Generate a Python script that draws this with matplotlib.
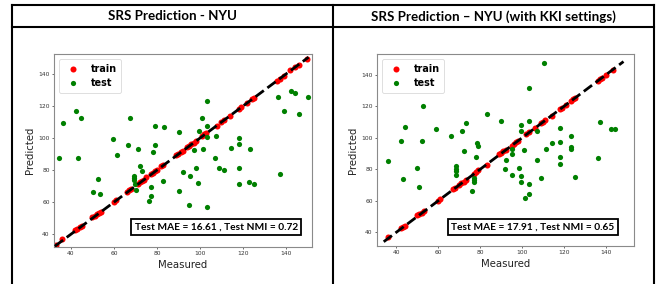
import matplotlib
matplotlib.use("Agg")
import matplotlib.pyplot as plt
from matplotlib.lines import Line2D

# ---------------- data ----------------
titles = ["SRS Prediction - NYU", "SRS Prediction \u2013 NYU (with KKI settings)"]
box_texts = ["Test MAE = 16.61 , Test NMI = 0.72", "Test MAE = 17.91 , Test NMI = 0.65"]

left_train_x = [33, 36, 42, 43, 44, 45, 50, 51, 52, 53, 54, 60, 61, 66, 67, 68, 71, 72, 73, 74, 75,
                77, 78, 79, 80, 82, 83, 89, 90, 91, 92, 94, 95, 96, 97, 98, 101, 102, 103, 108, 110,
                111, 114, 118, 119, 122, 124, 125, 136, 137, 139, 142, 144, 146, 150]
left_train_y = [33.5, 36.8, 42.9, 43.4, 44.2, 44.8, 50.6, 51.2, 52.3, 53.1, 54.0, 59.8, 61.2, 66.3,
                67.6, 68.1, 71.2, 72.4, 72.9, 74.1, 75.6, 77.3, 78.2, 79.4, 80.1, 82.6, 83.2, 89.4,
                89.9, 91.3, 92.1, 94.6, 95.3, 96.4, 97.1, 98.3, 101.2, 102.4, 103.3, 107.6, 109.8,
                111.4, 113.9, 118.3, 119.2, 122.1, 124.3, 124.8, 135.4, 137.2, 138.6, 142.4, 144.1,
                145.8, 149.2]
left_test_x = [36.4, 42.3, 44.5, 67.4, 59.4, 79.2, 83.3, 90.4, 66.5, 71.3, 79.2, 99.4, 101.1, 103.1,
               103.1, 103.1, 107.3, 118.0, 118.0, 114.3, 123.3, 136.1, 139.1, 142.2, 144.1, 146.1,
               150.1, 34.6, 43.4, 61.3, 78.3, 72.1, 73.2, 69.4, 69.4, 69.4, 69.6, 70.2, 50.4, 53.5,
               52.4, 77.3, 77.2, 76.3, 82.6, 91.9, 98.3, 95.2, 99.2, 90.4, 95.0, 103.1, 97.3, 101.2,
               107.2, 109.0, 111.3, 118.0, 118.0, 123.0, 125.1, 137.0]
left_test_y = [109.6, 116.7, 112.3, 112.3, 99.4, 107.5, 106.9, 104.0, 95.6, 93.1, 95.4, 104.6, 112.7,
               123.3, 107.5, 100.8, 101.4, 100.2, 96.5, 93.6, 93.1, 125.8, 117.1, 129.6, 128.0, 114.8,
               125.8, 87.5, 87.5, 89.2, 91.3, 82.5, 79.2, 76.3, 74.8, 73.6, 71.4, 67.9, 66.3, 65.0,
               74.3, 69.2, 63.9, 60.5, 73.2, 78.9, 81.1, 76.3, 72.0, 67.0, 58.0, 56.9, 92.4, 92.9,
               87.6, 81.1, 80.2, 81.1, 71.3, 72.8, 71.1, 77.8]
left_identity = [32.5, 150.5]

right_train_x = [36, 42, 43, 44, 50, 51, 52, 53, 60, 61, 67, 68, 70, 71, 72, 73, 77, 78, 79, 83, 89,
                 90, 91, 92, 95, 96, 97, 98, 102, 103, 106, 109, 110, 111, 114, 118, 119, 121, 123,
                 124, 125, 136, 137, 138, 140, 143]
right_train_y = [37.0, 42.5, 43.6, 44.2, 50.8, 51.5, 52.4, 53.3, 59.6, 61.1, 67.2, 68.3, 69.9, 71.2,
                 72.1, 73.4, 77.2, 78.4, 79.3, 82.7, 89.6, 90.5, 91.2, 92.4, 94.8, 96.2, 97.4, 98.1,
                 102.6, 103.3, 106.1, 109.3, 110.2, 111.4, 113.6, 117.9, 118.8, 120.9, 123.1, 124.2,
                 125.2, 135.8, 137.2, 138.1, 139.7, 142.8]
right_test_x = [52.9, 43.9, 42.0, 52.0, 59.0, 66.1, 71.2, 73.0, 78.5, 79.0, 83.2, 90.0, 99.3, 99.3,
                103.2, 103.2, 110.1, 107.0, 118.0, 118.0, 114.0, 123.0, 111.1, 101.0, 123.0, 123.0,
                136.9, 142.1, 144.2, 36.0, 43.1, 50.0, 50.8, 72.0, 68.6, 68.6, 68.6, 68.6, 75.9,
                78.1, 76.9, 76.9, 76.9, 92.0, 91.8, 95.3, 95.3, 95.3, 98.2, 99.2, 99.2, 101.1, 103.1,
                103.1, 106.9, 109.0, 118.0, 118.0, 125.3, 136.2]
right_test_y = [120.2, 107.0, 97.7, 97.6, 105.5, 101.1, 104.5, 109.1, 96.6, 95.0, 114.8, 110.8, 108.1,
                104.4, 110.7, 131.7, 147.6, 104.5, 106.0, 97.5, 96.5, 101.1, 92.9, 92.0, 94.0, 92.8,
                109.8, 105.5, 105.5, 85.4, 73.6, 80.8, 68.6, 91.5, 82.1, 80.2, 78.6, 76.6, 66.0,
                87.7, 74.7, 73.0, 71.6, 85.8, 80.0, 89.4, 76.5, 93.1, 80.8, 75.7, 72.1, 61.5, 70.5,
                64.1, 85.7, 74.4, 87.9, 83.5, 75.2, 87.1]
right_identity = [34.0, 148.2]

xticks = [40, 60, 80, 100, 120, 140]
yticks = [40, 60, 80, 100, 120, 140]

W, H = 666, 284
fig = plt.figure(figsize=(W / 100, H / 100), dpi=100)

def fx(px):
    return px / W

def fy(py):
    return 1 - py / H

panels = [
    dict(rect=[fx(54), fy(247), (312 - 54) / W, (247 - 54) / H], xlim=(32.1, 152.1), ylim=(32.0, 152.5),
         tx=left_train_x, ty=left_train_y, gx=left_test_x, gy=left_test_y, ident=left_identity,
         box=(129.3, 303.3)),
    dict(rect=[fx(377), fy(246), (634 - 377) / W, (246 - 54) / H], xlim=(30.8, 153.2), ylim=(31.3, 153.0),
         tx=right_train_x, ty=right_train_y, gx=right_test_x, gy=right_test_y, ident=right_identity,
         box=(446.3, 619.7)),
]

spine_c = "#8a8a8a"
for i, p in enumerate(panels):
    ax = fig.add_axes(p["rect"])
    ax.scatter(p["tx"], p["ty"], s=19, c="#ff0000", label="train", zorder=2, linewidths=0)
    ax.scatter(p["gx"], p["gy"], s=14, c="#008000", label="test", zorder=2, linewidths=0)
    ax.plot(p["ident"], p["ident"], ls="--", color="black", lw=2.0, zorder=3)
    ax.set_xlim(*p["xlim"])
    ax.set_ylim(*p["ylim"])
    ax.set_xticks(xticks)
    ax.set_yticks(yticks)
    ax.tick_params(labelsize=4.3, length=1.6, width=0.5, pad=1.5, colors="#333333")
    for s in ax.spines.values():
        s.set_color(spine_c)
        s.set_linewidth(0.8)
    ax.set_xlabel("Measured", fontsize=7.3, labelpad=2.5, color="#222222")
    ax.set_ylabel("Predicted", fontsize=7.3, labelpad=2, color="#222222")
    leg = ax.legend(loc="upper left", prop=dict(size=6.9, weight="bold"), frameon=True,
                    borderpad=0.5, handletextpad=0.8, labelspacing=0.45, borderaxespad=0.5,
                    markerscale=1.0, handlelength=2.0)
    leg.get_frame().set_edgecolor("#d0d0d0")
    leg.get_frame().set_linewidth(0.6)
    # stat box in figure coords
    x0, x1 = p["box"]
    fig.text(fx((x0 + x1) / 2), fy(227.2), box_texts[i], ha="center", va="center",
             fontsize=7.3, fontweight="bold", family=["Lato", "DejaVu Sans"],
             bbox=dict(boxstyle="square,pad=0.35", fc="white", ec="black", lw=1.3))

# panel frame (table-like)
lw = 1.5
lines = [
    ((12, 654), (5, 5)),
    ((12, 654), (27, 27)),
    ((12, 12), (5, 290)),
    ((333, 333), (5, 290)),
    ((654, 654), (5, 290)),
]
for xs, ys in lines:
    fig.add_artist(Line2D([fx(x) for x in xs], [fy(y) for y in ys], color="black", lw=lw))

fig.text(fx(172.5), fy(16.5), titles[0], ha="center", va="center", fontsize=9.6, fontweight="bold",
         family=["Lato", "DejaVu Sans"])
fig.text(fx(493.5), fy(16.5), titles[1], ha="center", va="center", fontsize=9.6, fontweight="bold",
         family=["Lato", "DejaVu Sans"])

fig.savefig("out.png", dpi=100)
